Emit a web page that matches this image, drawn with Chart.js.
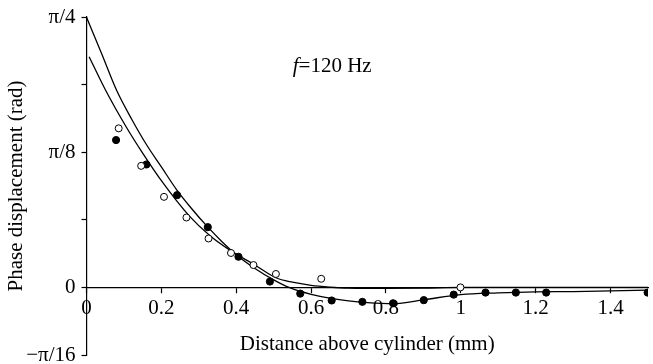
<!DOCTYPE html>
<html>
<head>
<meta charset="utf-8">
<script src="https://cdn.jsdelivr.net/npm/chart.js@4/dist/chart.umd.min.js"></script>
<style>
  html, body { margin: 0; padding: 0; background: #fff; }
  #wrap { width: 653px; height: 364px; }
</style>
</head>
<body>
<div id="wrap"><canvas id="phaseChart"></canvas></div>
<script>
const PI = Math.PI;

// measured points, open circles
const openDist  = [0.086, 0.146, 0.207, 0.267, 0.326, 0.386, 0.446, 0.506, 0.627, 0.999];
const openPhase = [0.462, 0.353, 0.263, 0.203, 0.142, 0.100, 0.065, 0.039, 0.025, 0.000];

// measured points, filled circles
const filledDist  = [0.079, 0.160, 0.242, 0.324, 0.406, 0.490, 0.571, 0.655, 0.737, 0.819, 0.901, 0.981, 1.066, 1.147, 1.228, 1.499];
const filledPhase = [0.428, 0.357, 0.268, 0.175, 0.089, 0.017, -0.018, -0.038, -0.042, -0.046, -0.037, -0.021, -0.015, -0.015, -0.015, -0.015];

// fitted curve through the filled set
const fitFilledDist  = [0, 0.04, 0.081, 0.12, 0.16, 0.2, 0.24, 0.28, 0.32, 0.36, 0.4, 0.45, 0.5, 0.541, 0.6, 0.65, 0.7, 0.75, 0.82, 0.9, 1.0, 1.1, 1.2, 1.3, 1.4, 1.5];
const fitFilledPhase = [0.785, 0.68, 0.571, 0.49, 0.415, 0.35, 0.285, 0.23, 0.18, 0.135, 0.095, 0.055, 0.022, 0, -0.02, -0.031, -0.039, -0.044, -0.047, -0.036, -0.021, -0.016, -0.013, -0.012, -0.01, -0.008];

// fitted curve through the open set
const fitOpenDist  = [0.007, 0.05, 0.107, 0.15, 0.2, 0.275, 0.33, 0.386, 0.45, 0.506, 0.55, 0.6, 0.65, 0.7, 0.8, 0.9, 1.0, 1.25, 1.5];
const fitOpenPhase = [0.670, 0.575, 0.4645, 0.39, 0.31, 0.207, 0.15, 0.106, 0.065, 0.028, 0.015, 0.006, 0.001, -0.002, -0.003, -0.002, 0, 0, 0];

// y ticks every pi/16, only some labelled
const yTickSteps = [-1, 0, 2, 4];
const yTickText  = ['\u2212\u03c0/16', '0', '\u03c0/8', '\u03c0/4'];

const freqLabel = '=120 Hz';

const serif = '"Liberation Serif", "Times New Roman", serif';

const pts = (xs, ys) => xs.map((x, i) => ({ x: x, y: ys[i] }));

// the "f=120 Hz" note inside the plot
const notePlugin = {
  id: 'note',
  afterDraw(chart) {
    const ctx = chart.ctx;
    const x = chart.scales.x.getPixelForValue(0.551);
    const y = chart.scales.y.getPixelForValue(0.625);
    ctx.save();
    ctx.fillStyle = '#000';
    ctx.textBaseline = 'alphabetic';
    ctx.font = 'italic 21px ' + serif;
    ctx.fillText('f', x, y);
    const w = ctx.measureText('f').width;
    ctx.font = '21px ' + serif;
    ctx.fillText(freqLabel, x + w, y);
    ctx.restore();
  }
};

new Chart(document.getElementById('phaseChart'), {
  type: 'scatter',
  data: {
    datasets: [
      {
        label: 'open',
        data: pts(openDist, openPhase),
        pointRadius: 3.5,
        pointBackgroundColor: '#fff',
        pointBorderColor: '#000',
        pointBorderWidth: 1,
        showLine: false
      },
      {
        label: 'filled',
        data: pts(filledDist, filledPhase),
        pointRadius: 3.6,
        pointBackgroundColor: '#000',
        pointBorderColor: '#000',
        pointBorderWidth: 1,
        showLine: false
      },
      {
        label: 'fit filled',
        data: pts(fitFilledDist, fitFilledPhase),
        showLine: true,
        pointRadius: 0,
        borderColor: '#000',
        borderWidth: 1.3,
        cubicInterpolationMode: 'monotone'
      },
      {
        label: 'fit open',
        data: pts(fitOpenDist, fitOpenPhase),
        showLine: true,
        pointRadius: 0,
        borderColor: '#000',
        borderWidth: 1.3,
        cubicInterpolationMode: 'monotone'
      }
    ]
  },
  options: {
    responsive: true,
    maintainAspectRatio: false,
    animation: false,
    layout: { padding: { top: 17, bottom: 9, left: 0, right: 3.5 } },
    plugins: {
      legend: { display: false },
      tooltip: { enabled: false }
    },
    scales: {
      x: {
        type: 'linear',
        min: 0,
        max: 1.5,
        position: { y: 0 },
        border: { color: '#000', width: 1.2 },
        grid: { drawOnChartArea: false, tickLength: 5, tickColor: '#000', tickWidth: 1.2 },
        ticks: {
          stepSize: 0.2,
          includeBounds: false,
          color: '#000',
          padding: 3,
          maxRotation: 0,
          font: { family: serif, size: 21 },
          callback: v => String(Math.round(v * 10) / 10)
        },
        title: {
          display: true,
          text: 'Distance above cylinder (mm)',
          color: '#000',
          font: { family: serif, size: 21 },
          padding: { top: 8, bottom: 0 }
        }
      },
      y: {
        type: 'linear',
        min: -PI / 16,
        max: PI / 4,
        border: { color: '#000', width: 1.2 },
        grid: { drawOnChartArea: false, tickLength: 5, tickColor: '#000', tickWidth: 1.2 },
        ticks: {
          stepSize: PI / 16,
          color: '#000',
          padding: 6,
          font: { family: serif, size: 21 },
          callback: v => {
            const k = yTickSteps.indexOf(Math.round(v / (PI / 16)));
            return k >= 0 ? yTickText[k] : '';
          }
        },
        title: {
          display: true,
          text: 'Phase displacement (rad)',
          color: '#000',
          font: { family: serif, size: 21 },
          padding: { top: 4, bottom: 0 }
        },
        afterFit: scale => {
          scale.width = 86.5;
          scale.paddingTop = 0;
          scale.paddingBottom = 0;
        }
      }
    }
  },
  plugins: [notePlugin]
});
</script>
</body>
</html>
